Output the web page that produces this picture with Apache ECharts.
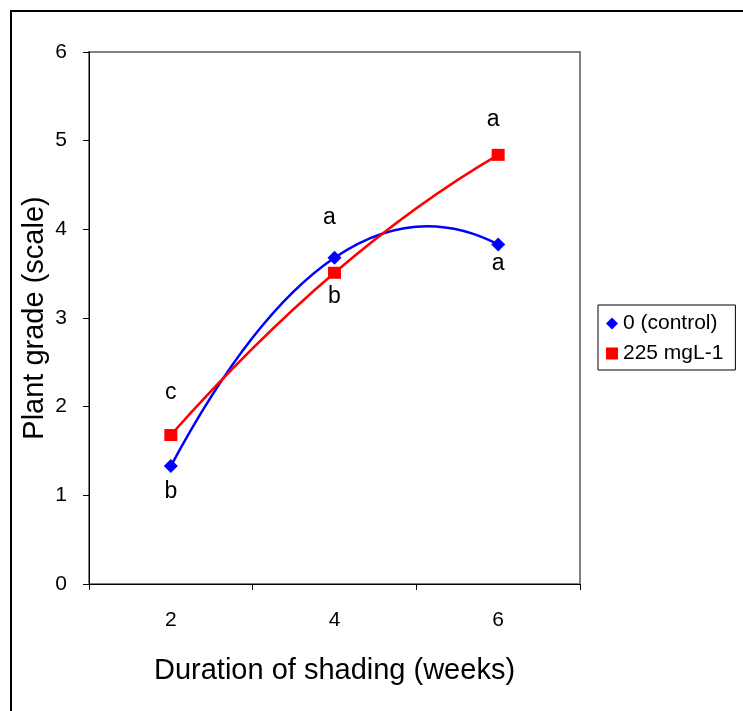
<!DOCTYPE html>
<html><head><meta charset="utf-8">
<script src="https://cdn.jsdelivr.net/npm/echarts@6/dist/echarts.min.js"></script>
<style>html,body{margin:0;padding:0;background:#fff}#c{width:743px;height:711px}</style>
</head><body><div id="c"></div>
<script>
// ---- data ----
const categories = ['2', '4', '6'];
const controlValues = [1.33, 3.68, 3.83];
const treatedValues = [1.68, 3.51, 4.84];
const controlLetters = ['b', 'a', 'a'];
const treatedLetters = ['c', 'b', 'a'];
const seriesNames = ['0 (control)', '225 mgL-1'];
const yTicks = [0, 1, 2, 3, 4, 5, 6];

// ---- styling ----
const FONT = '"Liberation Sans", Arial, sans-serif';
const controlLabelOffsets = [[0, 26], [-5, -40], [0, 19]];
const treatedLabelOffsets = [[0, -42], [0, 24], [-5, -35]];

function withLetters(values, letters, offsets) {
  return values.map((v, i) => ({
    value: v,
    label: {
      show: true, formatter: letters[i], position: 'inside', offset: offsets[i],
      fontSize: 23, color: '#000', fontFamily: FONT
    }
  }));
}

// Smooth curve (Hermite / Catmull-Rom with parabolic ends) drawn through the library's coordinates
function curveSeries(values, color, z) {
  return {
    type: 'custom', name: '_curve_' + color, coordinateSystem: 'cartesian2d',
    data: values.map((v, i) => [i, v]), encode: {x: 0, y: 1},
    silent: true, z: z, clip: false,
    renderItem: function (params, api) {
      if (params.dataIndex !== 0) return null;
      const p = values.map((v, i) => api.coord([i, v]));
      const n = p.length;
      const m = new Array(n);
      for (let i = 1; i < n - 1; i++) {
        m[i] = [(p[i + 1][0] - p[i - 1][0]) / 2, (p[i + 1][1] - p[i - 1][1]) / 2];
      }
      if (n > 2) {
        m[0] = [2 * (p[1][0] - p[0][0]) - m[1][0], 2 * (p[1][1] - p[0][1]) - m[1][1]];
        m[n - 1] = [2 * (p[n - 1][0] - p[n - 2][0]) - m[n - 2][0], 2 * (p[n - 1][1] - p[n - 2][1]) - m[n - 2][1]];
      } else {
        m[0] = [p[1][0] - p[0][0], p[1][1] - p[0][1]];
        m[1] = m[0];
      }
      let d = 'M' + p[0][0] + ' ' + p[0][1];
      for (let i = 0; i < n - 1; i++) {
        const c1 = [p[i][0] + m[i][0] / 3, p[i][1] + m[i][1] / 3];
        const c2 = [p[i + 1][0] - m[i + 1][0] / 3, p[i + 1][1] - m[i + 1][1] / 3];
        d += ' C' + c1[0] + ' ' + c1[1] + ' ' + c2[0] + ' ' + c2[1] + ' ' + p[i + 1][0] + ' ' + p[i + 1][1];
      }
      return {
        type: 'path', shape: {pathData: d},
        style: {fill: null, stroke: color, lineWidth: 2.5, lineJoin: 'round', lineCap: 'round'}
      };
    }
  };
}

const chart = echarts.init(document.getElementById('c'));
chart.setOption({
  animation: false,
  backgroundColor: '#fff',
  graphic: [{
    type: 'rect', shape: {x: 11, y: 11, width: 800, height: 800},
    style: {fill: 'none', stroke: '#000', lineWidth: 2}, silent: true, z: 100
  }],
  grid: {left: 89, right: 163, top: 52, bottom: 127, show: true,
         borderColor: '#808080', borderWidth: 2},
  legend: {
    orient: 'vertical', left: 598, top: 305,
    borderColor: '#000', borderWidth: 1, padding: [8, 12, 6, 8],
    itemGap: 9, itemWidth: 12, itemHeight: 12,
    textStyle: {fontSize: 21, color: '#000', fontFamily: FONT},
    data: [{name: seriesNames[0], icon: 'diamond'}, {name: seriesNames[1], icon: 'rect'}]
  },
  xAxis: {
    type: 'category', data: categories, boundaryGap: true,
    axisLine: {lineStyle: {color: '#000', width: 1}},
    axisTick: {show: true, interval: 0, length: 6, lineStyle: {color: '#000'}},
    axisLabel: {fontSize: 21, color: '#000', margin: 26, fontFamily: FONT},
    name: 'Duration of shading (weeks)', nameLocation: 'middle', nameGap: 72,
    nameTextStyle: {fontSize: 29, color: '#000', fontFamily: FONT}
  },
  yAxis: {
    type: 'value', min: yTicks[0], max: yTicks[yTicks.length - 1], interval: 1,
    axisLine: {show: true, lineStyle: {color: '#000', width: 1}},
    axisTick: {show: true, length: 6, lineStyle: {color: '#000'}},
    axisLabel: {fontSize: 21, color: '#000', margin: 22, fontFamily: FONT},
    splitLine: {show: false},
    name: 'Plant grade (scale)', nameLocation: 'middle', nameGap: 40, nameMoveOverlap: false,
    nameTextStyle: {fontSize: 29, color: '#000', fontFamily: FONT}
  },
  series: [
    curveSeries(controlValues, '#0000ff', 2),
    curveSeries(treatedValues, '#ff0000', 3),
    {
      name: seriesNames[0], type: 'line',
      data: withLetters(controlValues, controlLetters, controlLabelOffsets),
      lineStyle: {width: 0, opacity: 0},
      symbol: 'diamond', symbolSize: 14,
      itemStyle: {color: '#0000ff'}, z: 5
    },
    {
      name: seriesNames[1], type: 'line',
      data: withLetters(treatedValues, treatedLetters, treatedLabelOffsets),
      lineStyle: {width: 0, opacity: 0},
      symbol: 'rect', symbolSize: [13, 12],
      itemStyle: {color: '#ff0000'}, z: 5
    }
  ]
});
</script></body></html>
